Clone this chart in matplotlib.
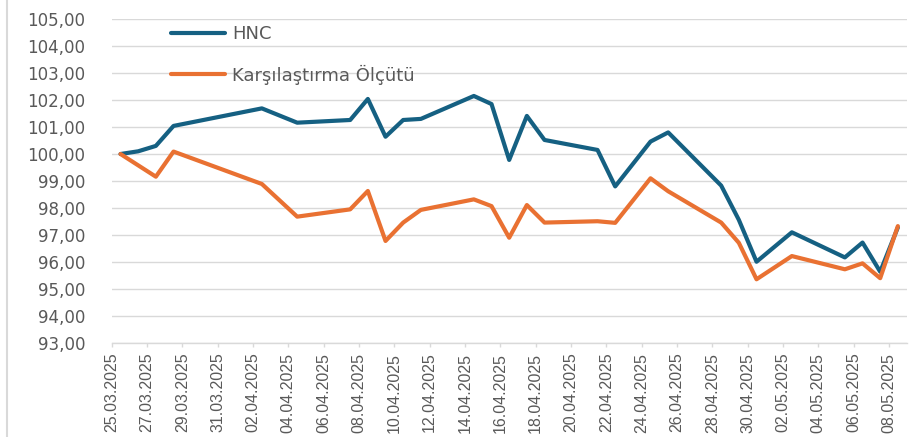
import matplotlib
matplotlib.use("Agg")
import matplotlib.pyplot as plt
import matplotlib.dates as mdates
from matplotlib.lines import Line2D
import pandas as pd

# Günlük seri değerleri (100 bazlı)
dates = ["25.03.2025", "26.03.2025", "27.03.2025", "28.03.2025", "02.04.2025",
         "04.04.2025", "07.04.2025", "08.04.2025", "09.04.2025", "10.04.2025",
         "11.04.2025", "14.04.2025", "15.04.2025", "16.04.2025", "17.04.2025",
         "18.04.2025", "21.04.2025", "22.04.2025", "24.04.2025", "25.04.2025",
         "28.04.2025", "29.04.2025", "30.04.2025", "02.05.2025", "05.05.2025",
         "06.05.2025", "07.05.2025", "08.05.2025"]
hnc = [100.00, 100.10, 100.30, 101.04, 101.69, 101.16, 101.26, 102.04, 100.64,
       101.26, 101.30, 102.15, 101.85, 99.78, 101.41, 100.52, 100.15, 98.80,
       100.46, 100.80, 98.83, 97.56, 96.01, 97.10, 96.17, 96.72, 95.64, 97.28]
benchmark = [100.00, 99.58, 99.16, 100.09, 98.89, 97.68, 97.95, 98.63, 96.78,
             97.46, 97.93, 98.32, 98.07, 96.90, 98.11, 97.46, 97.51, 97.45,
             99.10, 98.62, 97.46, 96.71, 95.36, 96.22, 95.73, 95.95, 95.40, 97.33]
labels = ["HNC", "Karşılaştırma Ölçütü"]

blue = "#156082"
orange = "#E97132"
text_color = "#595959"
grid_color = "#D9D9D9"

d = pd.to_datetime(dates, format="%d.%m.%Y")
x = d + pd.Timedelta(hours=12)  # noktalar gün ortasında

fig = plt.figure(figsize=(9.14, 4.37), dpi=100)
ax = fig.add_axes([0.1222, 0.2151, 0.8698, 0.7414])

ax.plot(x, hnc, color=blue, lw=3.0, solid_capstyle="round",
        solid_joinstyle="round", label=labels[0], zorder=3)
ax.plot(x, benchmark, color=orange, lw=3.0, solid_capstyle="round",
        solid_joinstyle="round", label=labels[1], zorder=4)

ax.set_ylim(93, 105)
ax.set_yticks(range(93, 106))
ax.yaxis.set_major_formatter(lambda v, p: f"{v:.2f}".replace(".", ","))
ax.set_xlim(pd.Timestamp("2025-03-25"), pd.Timestamp("2025-05-09"))
ax.set_xticks(pd.date_range("2025-03-25", "2025-05-08", freq="2D"))
ax.xaxis.set_major_formatter(mdates.DateFormatter("%d.%m.%Y"))

ax.grid(axis="y", color=grid_color, lw=1.0, zorder=0)
for s in ["top", "right", "left"]:
    ax.spines[s].set_visible(False)
ax.spines["bottom"].set_color(grid_color)
ax.spines["bottom"].set_linewidth(1.0)

ax.tick_params(axis="y", length=0, pad=19, labelsize=12, labelcolor=text_color)
ax.tick_params(axis="x", length=3, width=1, color=grid_color, pad=4,
               labelcolor=text_color)
for t in ax.get_xticklabels():
    t.set_rotation(90)
    t.set_family("Liberation Sans")
    t.set_fontsize(11.5)

leg = ax.legend(loc="upper left", bbox_to_anchor=(0.0746, 0.982), frameon=False,
                fontsize=13, handlelength=3.0, handletextpad=0.4,
                labelspacing=1.2, borderpad=0, borderaxespad=0)
for t in leg.get_texts():
    t.set_color(text_color)

# sol kenardaki çerçeve çizgisi
fig.add_artist(Line2D([0.008, 0.008], [0, 1], color=grid_color, lw=1.5,
                      transform=fig.transFigure))

fig.savefig("out.png", dpi=100)
